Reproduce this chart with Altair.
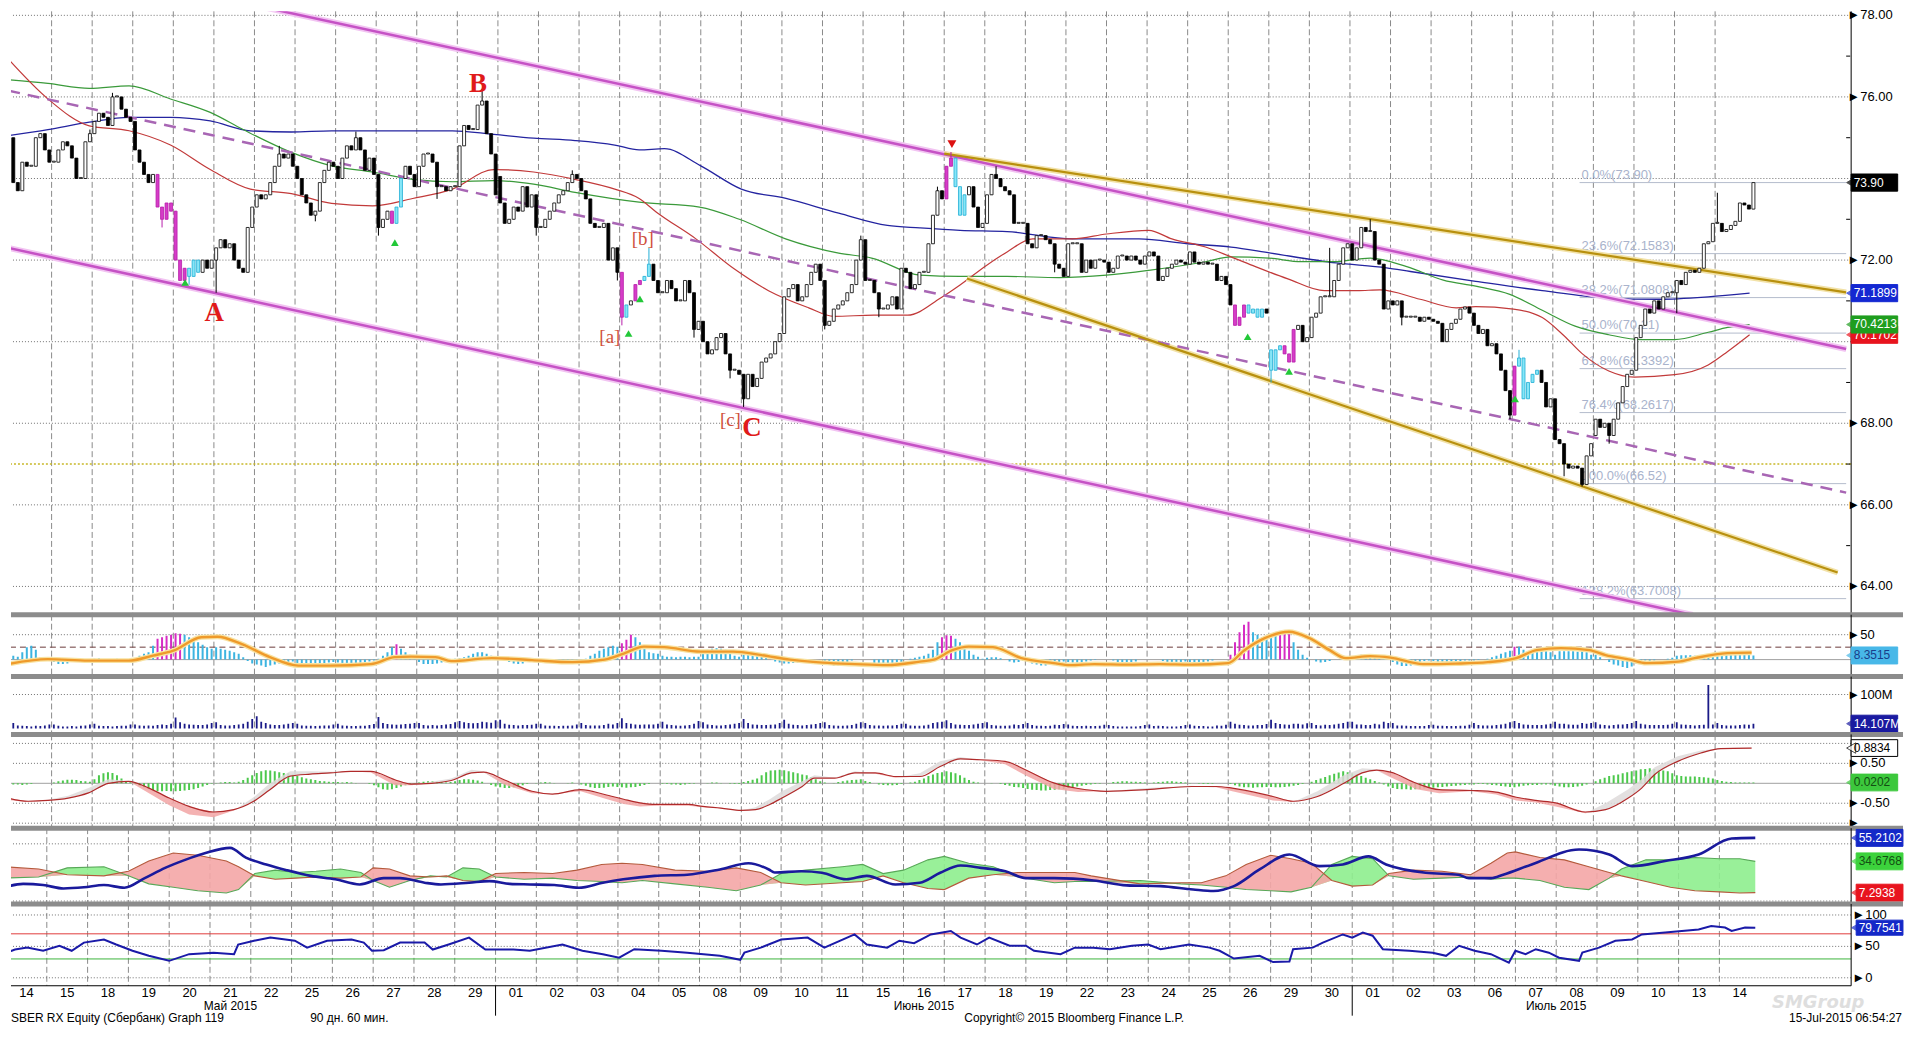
import altair as alt
import pandas as pd

FONT = "Liberation Sans"
W = 1845
X_DOMAIN = [0.122, 45.23]
BPD = 9

# ---------------- axis / label texts ----------------
DAY_LABELS = ["14", "15", "18", "19", "20", "21", "22", "25", "26", "27", "28", "29",
              "01", "02", "03", "04", "05", "08", "09", "10", "11", "15", "16", "17", "18", "19",
              "22", "23", "24", "25", "26", "29", "30",
              "01", "02", "03", "06", "07", "08", "09", "10", "13", "14"]
MONTHS = ["Май 2015", "Июнь 2015", "Июль 2015"]
MONTH_POS = [5.5, 22.5, 38.0]
MONTH_BOUNDS = [12, 33]
FOOTER = ["SBER RX Equity (Сбербанк) Graph 119", "90 дн. 60 мин.",
          "Copyright© 2015 Bloomberg Finance L.P.", "15-Jul-2015 06:54:27"]
WATERMARK = "SMGroup"

MAIN_GRID = [64, 66, 68, 70, 72, 74, 76, 78]
MAIN_TICKS = [64, 66, 68, 72, 76, 78]          # 70 and 74 are hidden behind value tags
MAIN_MINOR = [65, 67, 69, 71, 73, 75, 77]
P2_TICKS, P2_TEXT = [50], ["50"]
P3_TICKS, P3_TEXT = [100], ["100M"]
P4_TICKS, P4_TEXT = [0.5, -0.5, -1], ["0.50", "-0.50", ""]
P6_TICKS, P6_TEXT = [100, 50, 0], ["100", "50", "0"]

# ---------------- hourly closes (9 bars per trading day) ----------------
OPEN_FIRST = 75.0
CLOSE_MAY = [
    [73.9, 73.7, 74.4, 74.3, 74.3, 75.0, 75.1, 74.7, 74.4],
    [74.4, 74.7, 74.9, 74.8, 74.5, 74.0, 74.0, 74.9, 75.1],
    [75.4, 75.6, 75.5, 75.3, 76.0, 76.0, 75.7, 75.5, 75.4],
    [74.7, 74.4, 74.1, 73.9, 74.1, 73.3, 73.0, 73.4, 73.2],
    [72.0, 71.5, 71.8, 71.6, 72.0, 71.7, 72.0, 71.8, 72.0],
    [72.3, 72.5, 72.3, 72.4, 72.0, 71.8, 71.7, 72.8, 73.3],
    [73.6, 73.5, 73.6, 73.9, 74.3, 74.6, 74.5, 74.6, 74.3],
    [74.0, 73.6, 73.4, 73.1, 73.2, 73.9, 74.2, 74.4, 74.3],
    [74.0, 74.5, 74.8, 74.7, 75.0, 74.7, 74.2, 74.5, 74.1],
    [72.8, 73.0, 73.2, 72.9, 73.3, 74.0, 74.3, 74.1, 73.8],
    [74.3, 74.6, 74.6, 74.4, 73.8, 73.8, 73.7, 73.8, 73.8],
    [74.8, 75.3, 75.2, 75.2, 75.8, 75.9, 75.1, 74.6, 73.6],
]
CLOSE_JUN = [
    [73.4, 72.9, 73.0, 73.3, 73.2, 73.8, 73.3, 73.6, 72.8],
    [72.8, 73.0, 73.2, 73.4, 73.6, 73.7, 73.9, 74.1, 74.0],
    [73.7, 73.5, 72.9, 72.8, 72.8, 72.9, 72.0, 72.3, 71.7],
    [70.6, 70.9, 71.0, 71.4, 71.5, 71.6, 71.9, 71.5, 71.2],
    [71.2, 71.5, 71.3, 71.0, 71.0, 71.5, 71.2, 70.3, 70.5],
    [70.0, 69.7, 69.8, 70.1, 70.2, 69.7, 69.3, 69.3, 69.2],
    [68.6, 69.2, 68.9, 69.1, 69.5, 69.6, 69.7, 70.0, 70.2],
    [71.1, 71.3, 71.4, 71.0, 71.1, 71.4, 71.7, 71.9, 71.5],
    [70.4, 70.5, 70.8, 70.9, 71.0, 71.2, 71.4, 72.0, 72.5],
    [71.5, 71.5, 71.2, 70.8, 70.8, 70.9, 71.1, 70.8, 71.8],
    [71.7, 71.3, 71.4, 71.7, 71.7, 72.4, 73.1, 73.7, 73.5],
    [74.3, 74.5, 73.8, 73.1, 73.6, 73.8, 73.3, 72.8, 72.9],
    [73.6, 74.1, 74.0, 73.8, 73.7, 73.6, 72.9, 72.9, 72.9],
    [72.4, 72.3, 72.6, 72.6, 72.5, 72.4, 71.9, 71.8, 71.6],
    [72.4, 72.4, 72.4, 71.7, 72.0, 71.8, 72.0, 72.0, 71.95],
    [71.7, 71.8, 72.1, 72.1, 72.0, 72.1, 72.0, 71.9, 72.1],
    [72.2, 72.1, 71.5, 71.6, 71.8, 71.9, 72.0, 71.95, 71.9],
    [72.2, 71.95, 71.9, 71.95, 71.9, 71.9, 71.5, 71.6, 71.4],
    [70.9, 70.4, 70.6, 70.9, 70.7, 70.8, 70.6, 70.8, 70.7],
    [69.3, 69.8, 69.9, 69.7, 69.5, 70.3, 70.4, 70.0, 70.1],
    [70.6, 70.7, 71.1, 71.1, 71.1, 71.5, 71.9, 72.3, 72.4],
]
CLOSE_JUL = [
    [72.0, 72.3, 72.8, 72.7, 72.7, 72.0, 71.9, 70.8, 71.0],
    [70.9, 71.0, 70.6, 70.6, 70.6, 70.6, 70.5, 70.6, 70.55],
    [70.5, 70.45, 70.0, 70.3, 70.45, 70.55, 70.8, 70.85, 70.7],
    [70.4, 70.2, 70.3, 69.9, 69.95, 69.7, 69.3, 68.8, 68.2],
    [69.4, 69.6, 68.6, 69.0, 69.2, 69.3, 69.0, 68.4, 68.6],
    [67.6, 67.5, 67.0, 66.9, 66.95, 66.9, 66.5, 67.2, 67.5],
    [68.1, 67.9, 68.0, 67.7, 68.1, 68.5, 68.9, 69.2, 69.3],
    [70.1, 70.4, 70.8, 70.7, 71.0, 70.8, 71.1, 71.2, 71.2],
    [71.5, 71.4, 71.7, 71.75, 71.7, 71.8, 72.4, 72.45, 72.9],
    [72.9, 72.7, 72.75, 72.85, 72.95, 73.4, 73.35, 73.25, 73.9],
]
GAP_OPEN = [(12, 0, 74.05), (31, 0, 69.8), (39, 0, 67.7)]
WICK_HI = [(2, 4, 76.1), (11, 5, 76.2), (15, 6, 72.3), (23, 1, 74.65), (24, 2, 74.3),
           (32, 4, 72.3), (33, 4, 73.0), (37, 1, 69.8), (38, 0, 68.2), (42, 0, 73.65),
           (8, 4, 75.15), (20, 8, 72.6), (22, 7, 73.8), (13, 7, 74.2), (1, 8, 75.2), (6, 5, 74.8)]
WICK_LO = [(5, 0, 71.2), (4, 3, 71.4), (9, 0, 72.6), (15, 0, 70.4), (16, 7, 70.1), (18, 0, 68.4),
           (17, 6, 69.1), (31, 0, 69.0), (36, 8, 68.1), (38, 6, 66.45), (38, 2, 66.7), (41, 0, 70.7),
           (3, 6, 72.8), (14, 8, 71.5), (10, 4, 73.5), (7, 4, 72.95), (12, 8, 72.6), (21, 3, 70.6),
           (20, 0, 70.3), (25, 6, 71.7), (34, 2, 70.4), (39, 3, 67.5)]
CANDLE_MAGENTA = [(3, 5), (3, 6), (3, 7), (3, 8), (4, 0), (4, 1), (4, 2), (9, 3), (15, 0), (15, 3),
                  (15, 4), (23, 0), (23, 1), (30, 1), (30, 2), (30, 3), (31, 3), (31, 4), (31, 5), (37, 0)]
CANDLE_CYAN = [(4, 3), (4, 4), (4, 5), (9, 4), (9, 5), (15, 1), (15, 5), (15, 6), (23, 2), (23, 3),
               (23, 4), (30, 4), (30, 5), (30, 6), (30, 7), (31, 0), (31, 1), (31, 2), (37, 1), (37, 2),
               (37, 3), (37, 4), (37, 5)]

# ---------------- moving averages (day, price) ----------------
MA_RED = [(-0.07, 76.93), (0.91, 75.95), (1.93, 75.29), (2.91, 75.17), (3.93, 74.82), (4.91, 74.22),
          (5.90, 73.74), (6.91, 73.63), (7.90, 73.39), (8.91, 73.33), (9.90, 73.51), (10.88, 73.74),
          (11.90, 74.22), (12.88, 74.16), (13.90, 73.98), (14.88, 73.74), (15.48, 73.51), (15.9, 73.18),
          (16.88, 72.52), (17.83, 71.78), (18.67, 71.25), (19.66, 70.83), (20.28, 70.62), (21.27, 70.65),
          (22.1, 70.65), (22.91, 71.07), (23.39, 71.39), (24.04, 71.87), (24.55, 72.20), (25.18, 72.52),
          (26.16, 72.52), (27.0, 72.64), (28.04, 72.73), (28.61, 72.52), (29.44, 72.32), (30.07, 72.08),
          (30.67, 71.84), (31.47, 71.54), (32.37, 71.25), (33.18, 71.25), (33.74, 71.27), (34.73, 71.04),
          (35.62, 70.83), (36.1, 70.86), (37.03, 70.80), (37.74, 70.59), (38.25, 70.17), (38.73, 69.70),
          (39.38, 69.28), (40.01, 69.13), (41.0, 69.19), (41.83, 69.43), (42.31, 69.76), (42.85, 70.17)]
MA_GREEN = [(-0.07, 76.42), (0.91, 76.33), (1.93, 76.21), (2.91, 76.27), (3.93, 75.95), (4.91, 75.62),
            (5.72, 75.20), (6.91, 74.64), (7.90, 74.31), (8.91, 74.16), (9.90, 73.98), (10.88, 73.92),
            (11.90, 73.95), (12.88, 73.86), (13.90, 73.66), (15.48, 73.42), (16.97, 73.30), (17.95, 73.00),
            (19.09, 72.52), (20.40, 72.17), (21.21, 72.05), (22.40, 71.63), (23.39, 71.60), (24.55, 71.60),
            (25.83, 71.57), (27.0, 71.63), (28.04, 71.75), (29.44, 71.96), (30.07, 72.08), (31.0, 72.05),
            (31.8, 71.96), (32.6, 71.96), (33.5, 72.05), (34.4, 71.84), (35.3, 71.51), (36.10, 71.36),
            (36.94, 71.16), (37.74, 70.77), (38.55, 70.38), (39.38, 70.17), (40.19, 70.05), (41.0, 70.05),
            (41.83, 70.23), (42.31, 70.35), (42.85, 70.42)]
MA_BLUE = [(-0.07, 75.05), (0.91, 75.20), (1.93, 75.38), (2.91, 75.50), (3.93, 75.50), (4.91, 75.41),
           (5.90, 75.17), (6.91, 75.14), (7.90, 75.17), (9.90, 75.17), (10.88, 75.17), (11.90, 75.08),
           (12.88, 74.99), (13.90, 74.93), (14.88, 74.82), (15.48, 74.70), (16.1, 74.73), (17.0, 74.31),
           (18.0, 73.74), (19.1, 73.51), (20.4, 73.15), (21.6, 72.85), (22.4, 72.79), (23.39, 72.73),
           (24.55, 72.70), (26.16, 72.52), (27.8, 72.52), (29.0, 72.40), (30.07, 72.32), (31.05, 72.17),
           (32.66, 71.93), (33.9, 71.81), (34.49, 71.72), (36.1, 71.48), (37.74, 71.25), (39.38, 71.07),
           (40.6, 71.04), (41.83, 71.10), (42.85, 71.19)]

# ---------------- trend channels (day, price) ----------------
CH_UPPER = [(5.75, 78.30), (45.23, 69.82)]
CH_LOWER = [(-0.07, 72.30), (41.45, 63.30)]
CH_MID = [(-0.07, 76.155), (45.23, 66.30)]
OL_UPPER = [(23.0, 74.61), (45.23, 71.21)]
OL_LOWER = [(23.56, 71.55), (45.02, 64.34)]
LEVEL_67 = 67.0

FIB_START = 38.66
FIB_VAL = [73.90, 72.1583, 71.0808, 70.21, 69.3392, 68.2617, 66.52, 63.7008]
FIB_LABEL = ["0.0%(73.90)", "23.6%(72.1583)", "38.2%(71.0808)", "50.0%(70.21)", "61.8%(69.3392)",
             "76.4%(68.2617)", "100.0%(66.52)", "138.2%(63.7008)"]

BIG_LABELS = [("A", 5.01, 70.71), ("B", 11.51, 76.32), ("C", 18.26, 67.89)]
SMALL_LABELS = [("[a]", 14.76, 70.12), ("[b]", 15.57, 72.51), ("[c]", 17.73, 68.09)]
UP_TRI = [(4.29, 71.45), (9.46, 72.43), (15.22, 70.2), (15.5, 71.05), (30.48, 70.12), (31.5, 69.27), (37.07, 68.6)]
DOWN_TRI = [(23.19, 74.84)]

MAIN_TAGS = [("73.90", 73.90, "#000000", "#ffffff", "#000000"),
             ("71.1899", 71.1899, "#1428d2", "#ffffff", "#1428d2"),
             ("70.1702", 70.1702, "#e8141e", "#ffffff", "#e8141e"),
             ("70.4213", 70.4213, "#1f9e1f", "#ffffff", "#1f9e1f")]

# ---------------- panel 2: oscillator histogram + signal ----------------
H2 = [
    [8, 6, 15, 25, 28, 20, 5, 2, 0], [-5, -9, -9, -8, -4, -2, -1, 0, 0], [2, 3, 0, -2, -3, 2, 0, -1, 0],
    [3, 8, 12, 15, 28, 42, 45, 48, 50], [53, 52, 50, 45, 40, 35, 30, 25, 22], [25, 22, 20, 18, 15, 12, 5, -3, -8],
    [-10, -12, -15, -12, -10, -8, -6, -5, -4], [-8, -10, -10, -9, -8, -8, -8, -6, -5], [-6, -8, -8, -7, -8, -8, -6, -4, -2],
    [2, 8, 15, 25, 31, 22, 15, 10, 5], [-5, -9, -9, -9, -8, -6, -2, 0, 2], [3, 5, 8, 12, 15, 15, 12, 8, 3],
    [1, -2, -5, -8, -9, -8, -5, -2, 0], [0, 1, 0, -2, -4, -5, -6, -5, -4], [-2, 2, 8, 12, 18, 22, 25, 28, 26],
    [33, 40, 50, 45, 35, 25, 15, 13, 12], [8, 6, 6, 5, 6, 6, 5, 6, 6], [15, 20, 22, 23, 22, 20, 15, 8, 6],
    [10, 14, 14, 12, 10, 4, 0, -4, -6], [-8, -8, -7, -6, -4, -2, 0, 0, 0], [-4, -10, -12, -12, -10, -6, -2, 0, 0],
    [0, 0, -8, -12, -12, -10, -12, -10, -6], [0, 2, 4, 6, 8, 12, 20, 35, 45], [49, 48, 42, 35, 26, 18, 10, 6, 2],
    [4, 5, 5, 3, 0, -4, -6, -5, -3], [-4, -8, -10, -12, -12, -11, -10, -6, -4], [-5, -6, -6, -5, -4, -2, -1, 0, 0],
    [0, -2, -10, -15, -15, -12, -4, 0, 0], [0, 0, 0, -3, -6, -8, -8, -6, -4], [-5, -6, -8, -6, -4, -2, 0, 0, 0],
    [10, 35, 55, 70, 76, 55, 50, 45, 42], [44, 48, 54, 56, 55, 35, 20, 10, 4], [0, -4, -6, -5, -3, 0, 0, 0, 0],
    [5, 8, 10, 10, 9, 8, 6, 3, 0], [-5, -10, -13, -13, -12, -10, -6, -3, -2], [-3, -5, -5, -6, -5, -4, -3, -2, -2],
    [-2, -1, 0, 2, 5, 8, 12, 15, 18], [26, 26, 20, 17, 17, 17, 16, 17, 15], [10, 17, 17, 17, 17, 16, 17, 15, 10],
    [10, 5, 0, -5, -10, -12, -15, -17, -14], [-8, -4, -2, -3, -2, 0, 0, 2, 4], [8, 9, 9, 9, 8, 9, 9, 8, 9],
    [12, 14, 14, 14, 13, 14, 14, 13, 8.35],
]
H2_MAGENTA = [(3, 5), (3, 6), (3, 7), (3, 8), (4, 0), (4, 1), (9, 4), (15, 0), (15, 1), (15, 2), (22, 8),
              (23, 0), (23, 1), (30, 0), (30, 1), (30, 2), (30, 3), (30, 4), (31, 2), (31, 3), (31, 4), (37, 0)]
H2_SIGNAL = [(-0.08, -9), (0.91, 1), (1.91, -2), (2.90, -2), (3.5, 8), (4.0, 18), (4.69, 45), (5.09, 46),
             (5.69, 31), (6.38, 5), (7.08, -12), (7.87, -12), (8.87, -9), (9.46, 5), (9.86, 6), (10.46, 5),
             (10.85, -3), (11.85, 3), (12.84, -1), (13.84, -5), (14.63, 0), (15.1, 12), (15.6, 26), (16.1, 25),
             (17.0, 16), (17.8, 16), (18.5, 9), (19.2, 0), (20.0, -6), (20.8, -9), (21.6, -11), (22.4, -4),
             (22.75, 0), (23.2, 19), (23.6, 26), (24.2, 25), (24.9, 3), (25.7, -7), (26.1, -11), (26.7, -9),
             (27.5, -10), (28.3, -9), (29.1, -10), (30.0, -7), (30.4, 19), (30.9, 43), (31.5, 56), (32.0, 43),
             (32.5, 19), (32.9, 3), (33.5, 7), (34.0, 4), (34.8, -9), (35.6, -8), (36.4, -5), (37.1, 3),
             (37.6, 19), (38.2, 23), (38.9, 19), (39.3, 9), (39.9, 0), (40.3, -7), (41.1, -4), (41.5, 3),
             (42.3, 13), (42.9, 14)]
P2_TAGS = [("8.3515", 8.35, "#48b8e8", "#1a3d8a", "#48b8e8")]

# ---------------- panel 3: volume (millions) ----------------
VOL_MAY = [
    [16, 9, 8, 7, 6, 8, 7, 9, 12], [12, 8, 6, 6, 7, 6, 8, 9, 12], [14, 8, 7, 7, 6, 7, 8, 8, 12],
    [12, 9, 8, 9, 8, 10, 12, 10, 14], [32, 18, 14, 12, 11, 10, 10, 12, 16], [18, 10, 9, 9, 10, 12, 14, 20, 28],
    [36, 20, 16, 12, 10, 10, 12, 14, 16], [14, 9, 8, 8, 7, 8, 9, 9, 12], [14, 9, 8, 7, 7, 8, 8, 10, 13],
    [34, 16, 13, 12, 11, 12, 13, 14, 16], [16, 10, 9, 10, 9, 10, 12, 13, 18], [22, 18, 16, 15, 16, 20, 18, 17, 24],
]
VOL_JUN = [
    [26, 14, 11, 10, 9, 10, 10, 11, 14], [14, 9, 8, 8, 7, 8, 8, 9, 12], [16, 10, 9, 9, 9, 10, 14, 12, 16],
    [30, 16, 14, 12, 11, 12, 12, 12, 14], [20, 12, 10, 9, 8, 9, 10, 14, 22], [18, 12, 10, 9, 9, 10, 12, 14, 16],
    [28, 16, 12, 11, 10, 10, 11, 12, 16], [26, 14, 11, 10, 9, 10, 12, 13, 16], [18, 10, 9, 8, 8, 9, 10, 14, 18],
    [16, 10, 9, 9, 8, 9, 9, 10, 14], [14, 9, 8, 8, 9, 11, 16, 18, 20], [24, 16, 12, 11, 10, 10, 12, 14, 16],
    [18, 10, 9, 8, 8, 9, 12, 10, 13], [16, 10, 8, 8, 7, 8, 11, 10, 13], [12, 8, 7, 7, 8, 7, 7, 8, 11],
    [10, 7, 6, 6, 6, 6, 6, 7, 10], [12, 7, 8, 7, 6, 6, 6, 7, 10], [12, 8, 7, 7, 6, 6, 9, 8, 11],
    [20, 14, 11, 10, 9, 9, 10, 10, 13], [26, 16, 13, 12, 11, 14, 14, 12, 15], [16, 10, 9, 11, 10, 12, 14, 16, 20],
]
VOL_JUL = [
    [20, 12, 12, 10, 10, 14, 12, 20, 16], [16, 9, 9, 8, 7, 7, 7, 7, 10], [11, 8, 8, 7, 7, 7, 8, 8, 11],
    [16, 10, 9, 9, 9, 10, 12, 14, 18], [22, 16, 12, 11, 10, 10, 10, 12, 14], [20, 14, 14, 12, 11, 11, 16, 14, 16],
    [18, 12, 10, 9, 10, 12, 12, 13, 16], [22, 14, 12, 10, 10, 10, 10, 11, 14], [18, 12, 11, 10, 9, 10, 11, 128, 12],
    [16, 10, 9, 9, 9, 10, 12, 11, 14.107],
]
P3_TAGS = [("14.107M", 14.107, "#1a1aa0", "#ffffff", "#1a1aa0")]

# ---------------- panel 4: MACD (hist in hundredths) ----------------
MACD_HIST = [
    [-3, -3, -4, -3, -2, 0, 0, 0, 0], [2, 5, 7, 9, 9, 8, 6, 5, 4], [10, 20, 25, 28, 26, 20, 12, 6, 3],
    [-2, -6, -10, -14, -17, -20, -20, -19, -20], [-20, -19, -18, -17, -15, -12, -8, -4, -1], [1, 2, 3, 3, 2, 4, 8, 14, 20],
    [26, 30, 33, 32, 30, 28, 26, 25, 22], [18, 15, 12, 10, 8, 6, 5, 4, 3], [3, 2, 3, 2, 1, 0, 0, -2, -5],
    [-10, -15, -16, -15, -12, -8, -5, -3, -1], [2, 4, 5, 5, 4, 3, 2, 3, 5], [8, 10, 10, 9, 7, 4, 0, -4, -8],
    [-10, -12, -12, -10, -8, -5, -2, 0, 1], [2, 3, 2, 1, 0, 0, 1, 2, 0], [-3, -6, -10, -12, -12, -11, -9, -8, -9],
    [-10, -11, -10, -9, -7, -4, -2, 0, 0], [-1, -2, -3, -3, -4, -3, -2, -1, 0], [0, 1, 2, 2, 1, 0, -1, -2, -2],
    [3, 6, 9, 12, 20, 28, 32, 33, 34], [33, 30, 28, 25, 22, 20, 16, 10, 5], [2, 0, 1, 3, 5, 7, 8, 9, 10],
    [6, 3, 0, -3, -4, -5, -5, -4, -2], [0, 2, 4, 8, 12, 18, 22, 26, 28], [30, 28, 25, 20, 14, 8, 4, 2, 0],
    [0, 1, 0, -2, -4, -6, -9, -10, -12], [-14, -16, -17, -18, -18, -17, -16, -15, -14], [-12, -10, -8, -6, -4, -3, -2, -1, 0],
    [1, 3, 4, 5, 5, 4, 4, 3, 2], [1, 2, 3, 4, 5, 5, 4, 3, 2], [1, 0, -1, -2, -2, -1, 0, 0, 0],
    [-2, -5, -8, -10, -10, -11, -10, -10, -9], [-9, -10, -10, -9, -8, -6, -4, -2, 0], [4, 8, 12, 16, 20, 24, 27, 30, 28],
    [25, 22, 18, 14, 10, 6, 2, -3, -8], [-12, -14, -15, -15, -16, -15, -14, -13, -12], [-11, -10, -9, -8, -7, -6, -5, -4, -3],
    [-3, -2, -2, -3, -4, -5, -7, -8, -9], [-10, -8, -6, -5, -4, -4, -3, -3, -3], [-6, -8, -10, -10, -9, -8, -6, -3, 0],
    [5, 10, 14, 18, 20, 22, 25, 28, 30], [32, 35, 36, 38, 36, 34, 32, 30, 25], [20, 18, 17, 17, 17, 16, 15, 14, 12],
    [8, 6, 4, 3, 2, 2, 2, 2, 2],
]
# (day, signal line, leading line)
MACD = [(-0.08, -0.37, -0.42), (0.42, -0.45, -0.47), (0.91, -0.43, -0.41), (1.41, -0.37, -0.31), (1.91, -0.24, -0.12),
        (2.40, 0.0, 0.1), (2.90, 0.05, 0.06), (3.40, -0.12, -0.25), (3.90, -0.37, -0.55), (4.39, -0.58, -0.78),
        (4.99, -0.72, -0.85), (5.49, -0.66, -0.68), (5.98, -0.45, -0.35), (6.38, -0.16, 0.0), (6.88, 0.18, 0.3),
        (7.38, 0.23, 0.3), (7.87, 0.26, 0.29), (8.37, 0.30, 0.31), (8.87, 0.30, 0.27), (9.46, 0.09, -0.05),
        (9.86, -0.02, -0.05), (10.36, 0.0, 0.04), (10.85, 0.07, 0.12), (11.35, 0.26, 0.34), (11.65, 0.28, 0.3),
        (12.15, 0.09, -0.03), (12.84, -0.2, -0.25), (13.34, -0.27, -0.27), (14.04, -0.16, -0.2), (14.63, -0.28, -0.38),
        (15.1, -0.40, -0.52), (15.5, -0.49, -0.58), (15.9, -0.53, -0.56), (16.7, -0.53, -0.56), (17.05, -0.58, -0.6),
        (17.5, -0.62, -0.63), (18.0, -0.68, -0.68), (18.35, -0.66, -0.6), (18.7, -0.53, -0.4), (19.0, -0.37, -0.2),
        (19.5, -0.08, 0.05), (19.8, 0.13, 0.2), (20.3, 0.13, 0.14), (20.8, 0.26, 0.3), (21.3, 0.26, 0.24),
        (21.8, 0.17, 0.14), (22.4, 0.17, 0.25), (22.9, 0.42, 0.55), (23.4, 0.61, 0.66), (23.9, 0.59, 0.58),
        (24.5, 0.55, 0.48), (25.0, 0.34, 0.2), (25.7, 0.01, -0.14), (26.3, -0.13, -0.22), (27.0, -0.2, -0.2),
        (28.0, -0.16, -0.12), (29.1, -0.08, -0.06), (29.7, -0.08, -0.1), (30.1, -0.12, -0.2), (31.1, -0.33, -0.43),
        (31.6, -0.45, -0.47), (32.2, -0.33, -0.2), (32.85, 0.0, 0.2), (33.3, 0.26, 0.38), (33.66, 0.33, 0.35),
        (34.0, 0.28, 0.15), (34.64, 0.0, -0.15), (35.2, -0.16, -0.25), (36.0, -0.18, -0.2), (36.6, -0.22, -0.28),
        (37.1, -0.35, -0.43), (37.58, -0.43, -0.48), (38.07, -0.49, -0.58), (38.8, -0.72, -0.75), (39.3, -0.66, -0.5),
        (39.86, -0.37, -0.15), (40.19, -0.12, 0.1), (40.51, 0.22, 0.4), (41.08, 0.55, 0.68), (41.65, 0.76, 0.82),
        (42.14, 0.87, 0.88), (42.9, 0.8834, 0.9)]
P4_TAGS = [("0.8834", 0.8834, "#ffffff", "#000000", "#000000"),
           ("0.0202", 0.0202, "#3cc83c", "#134d13", "#3cc83c")]

# ---------------- panel 5: DMI ----------------
ADX = [(-0.08, 11.6), (0.42, 15), (0.91, 14), (1.41, 11), (1.91, 12), (2.40, 14), (2.90, 11.6), (3.40, 20),
       (3.90, 29), (4.39, 36), (4.89, 42), (5.49, 46.5), (5.88, 38), (6.38, 32), (6.88, 27), (7.47, 22),
       (8.07, 19), (8.67, 14.5), (9.26, 20), (9.66, 20), (10.26, 16), (10.66, 14.5), (11.35, 16), (11.85, 17.4),
       (12.35, 15), (12.84, 14.5), (13.44, 14), (14.04, 11.6), (14.63, 16), (15.13, 19), (15.9, 22), (16.7, 23),
       (17.5, 27.6), (18.2, 33), (18.7, 27.6), (18.84, 25), (19.5, 26), (20.0, 24.7), (20.6, 19), (21.1, 22),
       (21.8, 14.5), (22.4, 16), (22.9, 24.7), (23.4, 31), (23.9, 29), (24.5, 26), (25.0, 20), (25.7, 20),
       (26.66, 18), (27.47, 13.7), (28.3, 13), (29.1, 10), (29.6, 8.7), (30.1, 13), (30.73, 27.6), (31.46, 40.7),
       (32.2, 30.5), (32.77, 32), (33.4, 39), (33.83, 32), (34.8, 24.7), (35.6, 23), (35.86, 20), (36.4, 20),
       (36.7, 23), (37.4, 32), (38.56, 45), (39.3, 40.7), (39.86, 30.5), (40.67, 35), (41.49, 40.7), (42.3, 54.7),
       (42.88, 55.21)]
# (day, +DI, -DI)
DMI = [(-0.08, 20, 30), (0.8, 21, 28), (1.5, 29, 23), (2.4, 30, 22), (3.0, 22, 26), (3.5, 15, 35), (4.1, 12, 42),
       (4.7, 9, 40), (5.4, 7, 35), (5.7, 10, 30), (6.1, 24, 22), (6.6, 27, 19), (7.1, 25, 20), (7.6, 26, 21),
       (8.2, 28, 20), (8.7, 25, 21), (9.0, 18, 29), (9.4, 12, 28), (9.9, 18, 22), (10.4, 22, 21), (10.8, 21, 22),
       (11.2, 29, 18), (11.6, 28, 17), (12.0, 21, 24), (12.7, 19, 25), (13.4, 20, 24), (14.0, 18, 27), (14.6, 17, 32),
       (15.1, 16, 33), (15.6, 18, 32), (16.4, 15, 27), (17.2, 12, 26), (17.9, 9, 29), (18.5, 14, 25), (19.0, 24, 16),
       (19.6, 27, 14), (20.5, 30, 16), (21.0, 32, 17), (21.5, 24, 22), (22.0, 27, 16), (22.6, 36, 11), (23.0, 39, 10),
       (23.6, 33, 20), (24.2, 30, 23), (24.8, 21, 25), (25.7, 16, 25), (26.2, 17, 25), (26.6, 17, 22), (27.8, 18, 15),
       (28.8, 15, 16), (29.3, 14, 16), (29.9, 12, 22), (30.4, 10, 32), (31.0, 9, 40), (31.5, 8, 37), (32.0, 12, 33),
       (32.5, 32, 18), (33.0, 39, 13), (33.5, 37, 14), (33.9, 22, 24), (34.5, 19, 27), (35.2, 20, 26), (35.9, 21, 23),
       (36.4, 19, 33), (36.8, 20, 42), (37.0, 20, 43), (37.6, 18, 38), (38.2, 12, 36), (38.8, 10, 30), (39.3, 20, 25),
       (39.6, 28, 22), (40.2, 36, 17), (40.8, 36, 12), (41.4, 38, 9), (42.0, 37, 8), (42.5, 37, 7), (42.88, 34.68, 7.29)]
P5_TAGS = [("55.2102", 55.2102, "#1428c8", "#ffffff", "#1428c8"),
           ("34.6768", 34.6768, "#3cd23c", "#135013", "#3cd23c"),
           ("7.2938", 7.2938, "#e8141e", "#ffffff", "#e8141e")]

# ---------------- panel 6: RSI ----------------
RSI = [(-0.08, 37.6), (0.22, 45), (0.52, 48), (0.91, 43), (1.31, 51), (1.61, 43), (1.91, 56), (2.40, 61), (2.70, 53),
       (3.10, 43), (3.5, 35), (4.0, 27), (4.49, 37.6), (5.09, 40), (5.59, 37.6), (5.69, 53), (6.08, 59), (6.48, 64),
       (7.08, 59), (7.38, 48), (7.87, 59), (8.47, 61), (8.77, 56), (8.97, 43), (9.26, 44), (9.66, 56), (10.26, 56),
       (10.46, 45), (10.85, 53), (11.35, 64), (11.75, 45), (12.44, 45), (12.84, 43), (13.64, 53), (14.13, 43),
       (14.63, 37.6), (15.03, 32), (15.4, 45.5), (16.07, 43), (16.7, 40), (17.5, 35), (18.0, 28.6), (18.1, 40),
       (18.5, 48), (19.0, 61), (19.65, 64), (20.06, 48), (20.8, 69), (21.1, 53), (21.6, 48), (21.9, 59), (22.26, 55),
       (22.67, 69), (23.16, 74.6), (23.4, 64), (23.8, 53), (24.1, 64), (24.6, 51), (25.0, 51), (25.2, 43), (25.85, 37.6),
       (26.2, 48), (26.65, 48), (27.06, 45.5), (27.6, 51), (28.0, 53), (28.3, 45.5), (29.0, 53), (29.5, 48), (29.75, 43),
       (30.1, 30.7), (30.73, 35), (31.06, 25), (31.46, 26), (31.55, 45.5), (32.03, 48), (32.28, 56), (32.77, 69),
       (33.0, 64), (33.26, 72), (33.5, 67), (33.75, 45.5), (34.4, 43), (34.97, 40), (35.3, 35), (35.62, 51), (36.0, 43),
       (36.4, 37.6), (36.84, 24), (37.0, 43), (37.25, 37.6), (37.5, 45.5), (37.82, 40), (38.07, 32), (38.56, 27),
       (38.64, 40), (39.05, 48), (39.45, 59), (39.86, 61), (40.1, 69), (40.67, 72), (41.08, 74.6), (41.49, 77),
       (41.8, 82.5), (42.14, 80), (42.3, 74.6), (42.63, 80), (42.88, 79.75)]
P6_TAGS = [("79.7541", 79.7541, "#1428c8", "#ffffff", "#1428c8")]

# ======================= build =======================
XS = alt.Scale(domain=X_DOMAIN, nice=False, zero=False)
TAG_X0, TAG_X1, TAG_XT = 45.353, 46.50, 45.415
LBL_X = X_DOMAIN[1] + 0.03
ONE = pd.DataFrame({"a": [0]})
ARROW = "\u25ba"


def X(f):
    return alt.X(f, type="quantitative", scale=XS, axis=None)


def Y(f, sc):
    return alt.Y(f, type="quantitative", scale=sc, axis=None, title=None)


def vgrid():
    return alt.Chart(pd.DataFrame({"x": list(range(1, 43))})).mark_rule(
        color="#8a8a8a", strokeWidth=1, strokeDash=[6, 3]).encode(x=X("x"))


def hlines(vals, sc, color, width=1.0, dash=None):
    kw = dict(color=color, strokeWidth=width)
    if dash:
        kw["strokeDash"] = dash
    return alt.Chart(pd.DataFrame({"y": vals})).mark_rule(**kw).encode(y=Y("y", sc))


def right_axis(vals, texts, sc):
    out = [alt.Chart(ONE).mark_rule(color="#000000", strokeWidth=1).encode(x=alt.value(W))]
    if vals:
        df = pd.DataFrame({"y": vals, "t": [ARROW + t for t in texts], "x": LBL_X})
        out.append(alt.Chart(df).mark_text(align="left", baseline="middle", font=FONT, fontSize=13,
                                           color="#000000").encode(x=X("x"), y=Y("y", sc), text="t:N"))
    return out


def line(pts, sc, color, width, dash=None, interp="linear"):
    kw = dict(color=color, strokeWidth=width, interpolate=interp, clip=True)
    if dash:
        kw["strokeDash"] = dash
    df = pd.DataFrame([p[:2] for p in pts], columns=["x", "y"])
    return alt.Chart(df).mark_line(**kw).encode(x=X("x"), y=Y("y", sc))


def sep():
    return alt.Chart(ONE).mark_rule(color="#8c8c8c", strokeWidth=5).encode(
        x=alt.value(0), x2=alt.value(1897), y=alt.value(0))


def tag_layers(tags, half, sc):
    out = []
    for txt, v, bg, fg, bd in tags:
        df = pd.DataFrame([{"t": txt, "v": v, "y1": v - half, "y2": v + half,
                            "xa": TAG_X0, "xb": TAG_X1, "xt": TAG_XT, "bg": bg, "fg": fg, "bd": bd}])
        b = alt.Chart(df)
        out.append(b.mark_rect(strokeWidth=1).encode(
            x=X("xa"), x2="xb", y=Y("y1", sc), y2="y2",
            fill=alt.Fill("bg:N", scale=None), stroke=alt.Stroke("bd:N", scale=None)))
        out.append(b.mark_point(shape="triangle-left", filled=True, size=110, strokeWidth=1).encode(
            x=X("xa"), y=Y("v", sc), fill=alt.Fill("bg:N", scale=None), stroke=alt.Stroke("bd:N", scale=None)))
        out.append(b.mark_text(align="left", baseline="middle", font=FONT, fontSize=12).encode(
            x=X("xt"), y=Y("v", sc), text="t:N", color=alt.Color("fg:N", scale=None)))
    return out


def per_bar(days_lists, scale=1.0):
    rows = []
    for d, vals in enumerate(days_lists):
        for b, v in enumerate(vals):
            rows.append({"x": d + (b + 0.5) / BPD, "v": v * scale, "z": 0.0, "d": d, "b": b})
    return pd.DataFrame(rows)


# ---------- candles ----------
closes = CLOSE_MAY + CLOSE_JUN + CLOSE_JUL
gap = {(d, b): v for d, b, v in GAP_OPEN}
whi = {(d, b): v for d, b, v in WICK_HI}
wlo = {(d, b): v for d, b, v in WICK_LO}
mag = set(CANDLE_MAGENTA)
cya = set(CANDLE_CYAN)
rows = []
prev = OPEN_FIRST
for d, dc in enumerate(closes):
    for b, c in enumerate(dc):
        o = gap.get((d, b), prev)
        top, bot = max(o, c), min(o, c)
        hi = max(top, whi.get((d, b), top))
        lo = min(bot, wlo.get((d, b), bot))
        if (d, b) in mag:
            fill, stroke = "#d63cc8", "#b81eaa"
        elif (d, b) in cya:
            fill, stroke = "#86e6f7", "#22aed6"
        else:
            fill = "#ffffff" if c >= o else "#000000"
            stroke = "#000000"
        rows.append({"x": d + (b + 0.5) / BPD, "top": max(top, bot + 0.025), "bot": bot,
                     "hi": hi, "lo": lo, "fill": fill, "stroke": stroke})
        prev = c
cdf = pd.DataFrame(rows)

SC_MAIN = alt.Scale(domain=[63.306, 78.098], nice=False, zero=False)
fib_df = pd.DataFrame({"y": FIB_VAL, "t": FIB_LABEL})
fib_df["x0"] = FIB_START
fib_df["x1"] = X_DOMAIN[1]
minor_df = pd.DataFrame({"y": MAIN_MINOR, "x0": X_DOMAIN[1], "x1": X_DOMAIN[1] + 0.1})

main_layers = [
    vgrid(),
    hlines(MAIN_GRID, SC_MAIN, "#707070", 1, [1, 2]),
    hlines([LEVEL_67], SC_MAIN, "#c8b82a", 1.5, [2, 2]),
    alt.Chart(fib_df).mark_rule(color="#b4bccc", strokeWidth=1).encode(x=X("x0"), x2="x1", y=Y("y", SC_MAIN)),
    alt.Chart(fib_df).mark_text(align="left", baseline="middle", dx=2, dy=-8, font=FONT, fontSize=13,
                                color="#a9b3cc").encode(x=X("x0"), y=Y("y", SC_MAIN), text="t:N"),
    line(MA_BLUE, SC_MAIN, "#2424a0", 1.3, interp="monotone"),
    line(MA_GREEN, SC_MAIN, "#3a9a3a", 1.2, interp="monotone"),
    line(MA_RED, SC_MAIN, "#c23a3a", 1.2, interp="monotone"),
    line(CH_UPPER, SC_MAIN, "#f2c4f2", 6),
    line(CH_LOWER, SC_MAIN, "#f2c4f2", 6),
    line(OL_UPPER, SC_MAIN, "#f2e2a8", 5.5),
    line(OL_LOWER, SC_MAIN, "#f2e2a8", 5.5),
    line(CH_UPPER, SC_MAIN, "#c552c5", 2.5),
    line(CH_LOWER, SC_MAIN, "#c552c5", 2.5),
    line(CH_MID, SC_MAIN, "#a866b4", 2.5, dash=[12, 8]),
    line(OL_UPPER, SC_MAIN, "#b8900e", 2.2),
    line(OL_LOWER, SC_MAIN, "#b8900e", 2.2),
    alt.Chart(cdf).mark_rule(strokeWidth=1, clip=True).encode(
        x=X("x"), y=Y("lo", SC_MAIN), y2="hi", color=alt.Color("stroke:N", scale=None)),
    alt.Chart(cdf).mark_bar(size=3, strokeWidth=0.8, clip=True).encode(
        x=X("x"), y=Y("bot", SC_MAIN), y2="top",
        fill=alt.Fill("fill:N", scale=None), stroke=alt.Stroke("stroke:N", scale=None)),
    alt.Chart(pd.DataFrame(BIG_LABELS, columns=["t", "x", "y"])).mark_text(
        font="Liberation Serif", fontSize=27, fontWeight="bold", color="#e01a1a").encode(
        x=X("x"), y=Y("y", SC_MAIN), text="t:N"),
    alt.Chart(pd.DataFrame(SMALL_LABELS, columns=["t", "x", "y"])).mark_text(
        font="Liberation Serif", fontSize=19, color="#d0503c").encode(
        x=X("x"), y=Y("y", SC_MAIN), text="t:N"),
    alt.Chart(pd.DataFrame(UP_TRI, columns=["x", "y"])).mark_point(
        shape="triangle-up", filled=True, size=60, color="#22c838", opacity=1).encode(x=X("x"), y=Y("y", SC_MAIN)),
    alt.Chart(pd.DataFrame(DOWN_TRI, columns=["x", "y"])).mark_point(
        shape="triangle-down", filled=True, size=80, color="#dd1111", opacity=1).encode(x=X("x"), y=Y("y", SC_MAIN)),
    alt.Chart(minor_df).mark_rule(color="#000000", strokeWidth=1).encode(x=X("x0"), x2="x1", y=Y("y", SC_MAIN)),
] + right_axis(MAIN_TICKS, ["%.2f" % v for v in MAIN_TICKS], SC_MAIN) + tag_layers(MAIN_TAGS, 0.21, SC_MAIN)
main = alt.layer(*main_layers).properties(width=W, height=605)

# ---------- panel 2 ----------
SC2 = alt.Scale(domain=[-34, 90], nice=False, zero=False)
h2 = per_bar(H2)
h2mag = set(H2_MAGENTA)
h2["col"] = ["#d62cc4" if (d, b) in h2mag else "#3cb4e0" for d, b in zip(h2["d"], h2["b"])]
p2 = alt.layer(
    vgrid(),
    hlines([50], SC2, "#707070", 1, [1, 2]),
    hlines([25], SC2, "#6b3a3a", 1, [6, 4]),
    hlines([0], SC2, "#a0a0a0", 1),
    alt.Chart(h2).mark_bar(size=2, clip=True).encode(
        x=X("x"), y=Y("v", SC2), y2="z", color=alt.Color("col:N", scale=None)),
    line(H2_SIGNAL, SC2, "#f8e2a0", 5, interp="monotone"),
    line(H2_SIGNAL, SC2, "#ef9a2a", 2.4, interp="monotone"),
    sep(),
    *right_axis(P2_TICKS, P2_TEXT, SC2),
    *tag_layers(P2_TAGS, 17, SC2),
).properties(width=W, height=62)

# ---------- panel 3 ----------
SC3 = alt.Scale(domain=[-17.6, 152.9], nice=False, zero=False)
vol = per_bar(VOL_MAY + VOL_JUN + VOL_JUL)
p3 = alt.layer(
    vgrid(),
    hlines([100], SC3, "#707070", 1, [1, 2]),
    alt.Chart(vol).mark_bar(size=1.8, color="#1a1a88", clip=True).encode(x=X("x"), y=Y("v", SC3), y2="z"),
    sep(),
    *right_axis(P3_TICKS, P3_TEXT, SC3),
    *tag_layers(P3_TAGS, 25, SC3),
).properties(width=W, height=58)

# ---------- panel 4 ----------
SC4 = alt.Scale(domain=[-1.125, 1.225], nice=False, zero=False)
mh = per_bar(MACD_HIST, 0.01)
mdf = pd.DataFrame(MACD, columns=["x", "sig", "lead"])
mdf["lo"] = mdf[["sig", "lead"]].min(axis=1)
p4 = alt.layer(
    vgrid(),
    hlines([1, 0.5, -0.5, -1], SC4, "#707070", 1, [1, 2]),
    hlines([0], SC4, "#a0a0a0", 1),
    alt.Chart(mh).mark_bar(size=2, color="#4cc84c", clip=True).encode(x=X("x"), y=Y("v", SC4), y2="z"),
    alt.Chart(mdf).mark_area(color="#f2a4a4", opacity=0.85, clip=True).encode(x=X("x"), y=Y("sig", SC4), y2="lo"),
    alt.Chart(mdf).mark_area(color="#dedada", opacity=0.85, clip=True).encode(x=X("x"), y=Y("lead", SC4), y2="lo"),
    line([(p[0], p[1]) for p in MACD], SC4, "#b02a2a", 1.2, interp="monotone"),
    sep(),
    *right_axis(P4_TICKS, P4_TEXT, SC4),
    *tag_layers(P4_TAGS, 0.21, SC4),
).properties(width=W, height=94)

# ---------- panel 5 ----------
SC5 = alt.Scale(domain=[-2.6, 63.7], nice=False, zero=False)
ddf = pd.DataFrame(DMI, columns=["x", "p", "m"])
ddf["lo"] = ddf[["p", "m"]].min(axis=1)
p5 = alt.layer(
    vgrid(),
    hlines([50, 0], SC5, "#707070", 1, [1, 2]),
    alt.Chart(ddf).mark_area(color="#8eee8e", opacity=0.9, clip=True).encode(x=X("x"), y=Y("p", SC5), y2="lo"),
    alt.Chart(ddf).mark_area(color="#f4a6a6", opacity=0.9, clip=True).encode(x=X("x"), y=Y("m", SC5), y2="lo"),
    line([(p[0], p[1]) for p in DMI], SC5, "#58a858", 1.1),
    line([(p[0], p[2]) for p in DMI], SC5, "#b45a3c", 1.1),
    line(ADX, SC5, "#1a1a9c", 2.6, interp="monotone"),
    sep(),
    *right_axis([], [], SC5),
    *tag_layers(P5_TAGS, 7.4, SC5),
).properties(width=W, height=76)

# ---------- panel 6 ----------
SC6 = alt.Scale(domain=[-12.7, 117.5], nice=False, zero=False)
p6 = alt.layer(
    vgrid(),
    hlines([100, 50, 0], SC6, "#707070", 1, [1, 2]),
    hlines([70], SC6, "#e03c3c", 1),
    hlines([30], SC6, "#3cb43c", 1),
    line(RSI, SC6, "#1a1aa8", 2),
    sep(),
    *right_axis(P6_TICKS, P6_TEXT, SC6),
    *tag_layers(P6_TAGS, 12, SC6),
).properties(width=W, height=82)

# ---------- footer (date axis + captions) ----------
days_df = pd.DataFrame({"x": [k + 0.5 for k in range(len(DAY_LABELS))], "t": DAY_LABELS})
months_df = pd.DataFrame({"x": MONTH_POS, "t": MONTHS})
bounds_df = pd.DataFrame({"x": MONTH_BOUNDS})
txt13 = dict(font=FONT, fontSize=13, color="#000000", baseline="middle")
txt12 = dict(font=FONT, fontSize=12, color="#000000", baseline="middle")
foot = alt.layer(
    alt.Chart(ONE).mark_rule(color="#000000", strokeWidth=1).encode(x=alt.value(0), x2=alt.value(W), y=alt.value(0)),
    alt.Chart(bounds_df).mark_rule(color="#000000", strokeWidth=1).encode(x=X("x"), y=alt.value(0), y2=alt.value(30)),
    alt.Chart(ONE).mark_text(text=WATERMARK, align="center", baseline="middle", font="DejaVu Sans", fontSize=18,
                             fontStyle="italic", fontWeight="bold", color="#dedede").encode(
        x=alt.value(1812), y=alt.value(17)),
    alt.Chart(days_df).mark_text(align="center", **txt13).encode(x=X("x"), y=alt.value(7), text="t:N"),
    alt.Chart(months_df).mark_text(align="center", **txt12).encode(x=X("x"), y=alt.value(20), text="t:N"),
    alt.Chart(ONE).mark_text(text=FOOTER[0], align="left", **txt12).encode(x=alt.value(0), y=alt.value(32.5)),
    alt.Chart(ONE).mark_text(text=FOOTER[1], align="left", **txt12).encode(x=alt.value(300), y=alt.value(32.5)),
    alt.Chart(ONE).mark_text(text=FOOTER[2], align="center", **txt12).encode(x=alt.value(1066), y=alt.value(32.5)),
    alt.Chart(ONE).mark_text(text=FOOTER[3], align="right", **txt12).encode(x=alt.value(1896), y=alt.value(32.5)),
).properties(width=W, height=39)

chart = alt.vconcat(main, p2, p3, p4, p5, p6, foot, spacing=0).properties(
    bounds="flush", padding={"left": 0, "top": 0, "right": 0, "bottom": 0}, background="#ffffff"
).configure_view(strokeWidth=0)

chart.save("out.html", embed_options={"renderer": "svg", "actions": False})
